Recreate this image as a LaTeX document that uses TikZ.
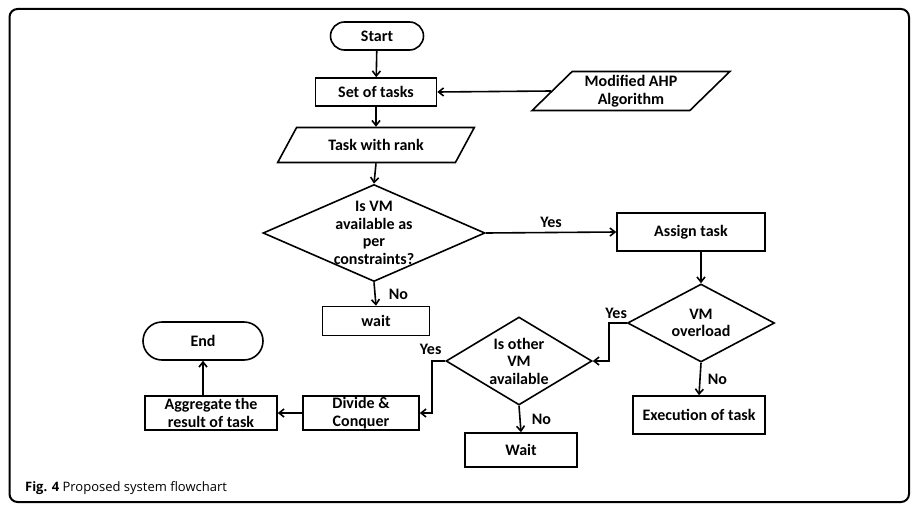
\documentclass[tikz,border=0pt]{standalone}
\usepackage{fontspec}
\setmainfont{Carlito}
\newfontfamily\captionfont{Open Sans}
\usetikzlibrary{positioning,shapes.geometric,shapes.misc,arrows.meta}
\tikzset{
	system flowchart/.style={
		x=1pt,y=-1pt,
		line width=1.6pt,
		>={Straight Barb[length=5pt,width=8pt]},
		font=\fontsize{16}{17.5}\selectfont\bfseries
	},
	terminator/.style={
		rounded rectangle,
		draw,
		inner sep=0pt
	},
	process/.style={
		rectangle,
		draw,
		align=center,
		inner sep=0pt
	},
	data/.style={
		trapezium,
		trapezium left angle=45,
		trapezium right angle=135,
		trapezium stretches=true,
		draw,
		align=center,
		inner sep=0pt
	},
	decision/.style={
		diamond,
		draw,
		inner sep=0pt
	},
	decision text/.style={
		align=center,
		inner sep=0pt
	},
	answer/.style={
		inner sep=1pt
	}
}

\begin{document}
\begin{tikzpicture}[system flowchart]
	\useasboundingbox (0,0) rectangle (920,511);
	\draw[line width=2pt,rounded corners=8pt] (9.5,9) rectangle (909,502);
	\node[anchor=base west,font=\captionfont\fontsize{13}{15}\selectfont] (caption) at (21,491)
		{\textbf{Fig. 4} Proposed system flowchart};
	% main column
	\node[terminator,minimum width=93pt,minimum height=28pt] (start) at (377,36) {Start};
	\node[process,minimum width=121pt,minimum height=28pt] (tasks) at (376,92) {Set of tasks};
	\node[data,minimum width=198pt,minimum height=39pt] (ahp) at (631,91) {Modified AHP\\Algorithm};
	\node[data,minimum width=197pt,minimum height=35pt] (rank) at (376,145) {Task with rank};
	\node[decision,minimum width=222pt,minimum height=97pt] (avail) at (374,233) {};
	\node[decision text] (availtext) at (avail) {Is VM\\available as\\per\\constraints?};
	\node[process,minimum width=107pt,minimum height=29pt] (wait1) at (376,321) {wait};
	% right branch
	\node[process,minimum width=148pt,minimum height=38pt] (assign) at (691,232) {Assign task};
	\node[decision,minimum width=147pt,minimum height=78pt] (overload) at (701,323) {};
	\node[decision text] (overloadtext) at (overload) {VM\\overload};
	\node[process,minimum width=132pt,minimum height=38pt] (exec) at (699,415) {Execution of task};
	\node[decision,minimum width=146pt,minimum height=88pt] (other) at (519,361) {};
	\node[decision text] (othertext) at (other) {Is other\\VM\\available};
	\node[process,minimum width=112pt,minimum height=34pt] (wait2) at (521,450) {Wait};
	% bottom left
	\node[process,minimum width=116pt,minimum height=34pt] (divide) at (361,413) {Divide \&\\Conquer};
	\node[process,minimum width=132pt,minimum height=34pt] (aggregate) at (211,413) {Aggregate the\\result of task};
	\node[terminator,minimum width=120pt,minimum height=38pt] (end) at (203,341) {End};

	\draw[->] (start) -- (tasks);
	\draw[->] (ahp.west) -- (tasks.east);
	\draw[->] (tasks) -- (rank);
	\draw[->] (rank.south) -- (avail.north);
	\draw[->] (avail.east) -- node[answer,above=3pt] (yes1) {Yes} (assign.west);
	\draw[->] (avail.south) -- node[answer,right=12pt] (no1) {No} (wait1.north);
	\draw[->] (overload.north |- assign.south) -- (overload.north);
	\draw[->] (overload.south) -- node[answer,right=6pt] (no2) {No} (exec.north);
	\draw[->] (overload.west) -- ++(-18,0) |- (other.east);
	\node[answer,above left=3pt and -2pt of overload.west] (yes2) {Yes};
	\draw[->] (other.south) -- node[answer,right=10pt] (no3) {No} (wait2.north);
	\draw[->] (other.west) -- ++(-13,0) |- (divide.east);
	\node[answer,above left=5pt and 2pt of other.west] (yes3) {Yes};
	\draw[->] (divide) -- (aggregate);
	\draw[->] (end.south |- aggregate.north) -- (end.south);
\end{tikzpicture}
\end{document}
